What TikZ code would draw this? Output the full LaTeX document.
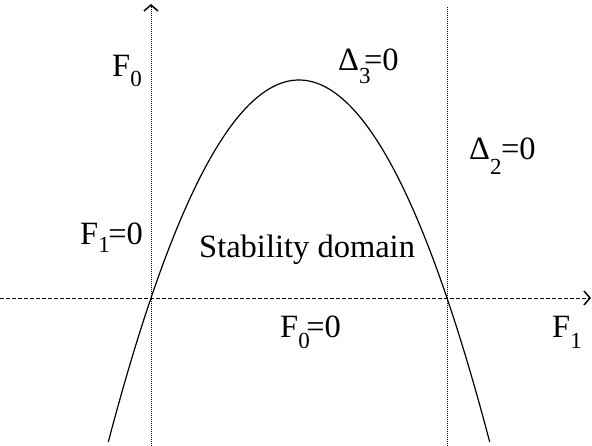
\documentclass[tikz,border=0pt]{standalone}
\usepackage{fontspec}
\setmainfont{Liberation Serif}
\usetikzlibrary{arrows.meta}
\newcommand{\lsub}[3]{\rlap{\raisebox{-#2pt}{\fontsize{23}{23}\selectfont #1}}\kern#3pt}
\begin{document}
\begin{tikzpicture}[x=1pt,y=-1pt,
  lbl/.style={anchor=base west,inner sep=0pt,font=\fontsize{32.5}{32.5}\selectfont},
  axisline/.style={line width=0.8pt, dash pattern=on 4pt off 2pt},
  dotline/.style={line width=0.8pt, dash pattern=on 1.2pt off 0.8pt},
  curve/.style={line width=1.2pt},
  tip/.style={-{Straight Barb[length=6pt,width=14pt,line width=1.5pt]}}]
\useasboundingbox (0,0) rectangle (592,446);
\coordinate (xs) at (0,298);
\coordinate (xe) at (591,298);
\coordinate (ys) at (151,446);
\coordinate (ye) at (151,4);
\coordinate (ds) at (447,446);
\coordinate (de) at (447,7);
\draw[axisline, tip] (xs) -- (xe);
\draw[dotline, tip] (ys) -- (ye);
\draw[dotline] (ds) -- (de);
\draw[curve] plot[domain=108.3:489.7, samples=120, smooth] (\x, {80+(0.09976*(\x-299))^2});
\node[lbl] (f0) at (112,77) {F\lsub{0}{10}{12}};
\node[lbl] (d3) at (338,71) {Δ\lsub{3}{13}{5}=0};
\node[lbl] (d2) at (469,160) {Δ\lsub{2}{15}{11}=0};
\node[lbl] (f1z) at (80,245) {F\lsub{1}{8}{10}=0};
\node[lbl] (sd) at (199,258) {Stability domain};
\node[lbl] (f0z) at (280,338) {F\lsub{0}{10}{8}=0};
\node[lbl] (f1) at (552,338) {F\lsub{1}{10}{12}};
\end{tikzpicture}
\end{document}
